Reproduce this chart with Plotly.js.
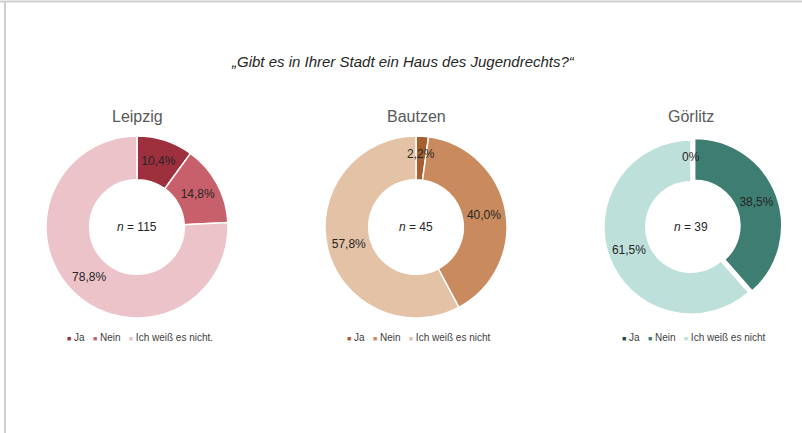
<!DOCTYPE html>
<html>
<head>
<meta charset="utf-8">
<script src="https://cdn.plot.ly/plotly-3.0.1.min.js"></script>
<style>html,body{margin:0;padding:0;background:#fff;}#chart{width:802px;height:433px;}</style>
</head>
<body>
<div id="chart"></div>
<script>
// ---- data ----
const chartTitle = '„Gibt es in Ihrer Stadt ein Haus des Jugendrechts?“';
const cities = ['Leipzig', 'Bautzen', 'Görlitz'];
const sampleSizes = [115, 45, 39];
const answers = ['Ja', 'Nein', 'Ich weiß es nicht'];
const legendLabelsLeipzig = ['Ja', 'Nein', 'Ich weiß es nicht.'];
const legendLabelsBautzen = ['Ja', 'Nein', 'Ich weiß es nicht'];
const legendLabelsGoerlitz = ['Ja', 'Nein', 'Ich weiß es nicht'];
const valuesLeipzig = [10.4, 14.8, 78.8];
const valuesBautzen = [2.2, 40.0, 57.8];
const valuesGoerlitz = [0, 38.5, 61.5];

// ---- styles ----
const colorsLeipzig = ['#9E2F3D', '#C8606B', '#EBC3C9'];
const colorsBautzen = ['#A65F2F', '#C98B5E', '#E4C2A6'];
const colorsGoerlitz = ['#1E4A42', '#3E7D72', '#BDE0DA'];
const font = 'Liberation Sans, Arial, sans-serif';
const textColor = '#262626';
const centersX = [137, 416, 691];
const centerY = 227;
const radius = 91;
const holeFrac = 0.52;
const W = 802, H = 433;
const domY = [(H - centerY - radius) / H, (H - centerY + radius) / H];
const smallThreshold = 5;

function fmt(v) {
  if (v === 0) return '0%';
  return v.toFixed(1).replace('.', ',') + '%';
}

const allValues = [valuesLeipzig, valuesBautzen, valuesGoerlitz];
const allColors = [colorsLeipzig, colorsBautzen, colorsGoerlitz];
const allLegend = [legendLabelsLeipzig, legendLabelsBautzen, legendLabelsGoerlitz];
const pulls = [[0, 0, 0], [0, 0, 0], [0, 0.045, 0]];

const traces = cities.map((c, i) => ({
  type: 'pie',
  labels: answers,
  values: allValues[i],
  text: allValues[i].map(v => v < smallThreshold ? '' : fmt(v)),
  textinfo: 'text',
  textposition: 'inside',
  insidetextorientation: 'horizontal',
  textfont: {family: font, size: 12, color: textColor},
  hole: holeFrac,
  sort: false,
  direction: 'clockwise',
  rotation: 0,
  pull: pulls[i],
  marker: {colors: allColors[i], line: {color: '#ffffff', width: 1.5}},
  domain: {x: [(centersX[i] - 110) / W, (centersX[i] + 110) / W], y: domY},
  showlegend: false,
  hoverinfo: 'label+text'
}));

const annotations = [];
function addText(text, px, py, size, color, extra) {
  annotations.push(Object.assign({
    text: text, x: px / W, y: (H - py) / H, xref: 'paper', yref: 'paper',
    xanchor: 'center', yanchor: 'middle', showarrow: false,
    font: {family: font, size: size, color: color}
  }, extra || {}));
}

cities.forEach((c, i) => {
  const cx = centersX[i];
  addText(c, cx, 117, 16, '#595959');
  addText('<i>n</i> = ' + sampleSizes[i], cx, centerY, 12, textColor);
  const leg = allLegend[i].map((l, k) =>
    '<span style="color:' + allColors[i][k] + ';font-size:7px">■</span> ' + l
  ).join('   ');
  addText(leg, cx + 3, 337, 10, '#404040');
  // labels of very small slices, placed at the slice's mid angle
  const vals = allValues[i];
  const total = vals.reduce((a, b) => a + b, 0);
  const maxPull = Math.max.apply(null, pulls[i]);
  const R = radius / (1 + maxPull);
  let cum = 0;
  vals.forEach((v, k) => {
    const mid = (cum + v / 2) / total * 2 * Math.PI;
    cum += v;
    if (v < smallThreshold) {
      const r = R * 0.8;
      addText(fmt(v), cx + r * Math.sin(mid), centerY - r * Math.cos(mid), 12, textColor);
    }
  });
});
addText('<i>' + chartTitle + '</i>', 403, 62, 15, textColor);

const layout = {
  width: W, height: H,
  margin: {l: 0, r: 0, t: 0, b: 0},
  paper_bgcolor: '#ffffff',
  showlegend: false,
  annotations: annotations,
  shapes: [
    {type: 'line', xref: 'paper', yref: 'paper', x0: 0, x1: 1, y0: (H - 1.5) / H, y1: (H - 1.5) / H, line: {color: '#CFCFCF', width: 2}},
    {type: 'line', xref: 'paper', yref: 'paper', x0: 5 / W, x1: 5 / W, y0: 0, y1: (H - 1) / H, line: {color: '#CFCFCF', width: 2}}
  ]
};

Plotly.newPlot('chart', traces, layout, {displayModeBar: false, staticPlot: true});
</script>
</body>
</html>
